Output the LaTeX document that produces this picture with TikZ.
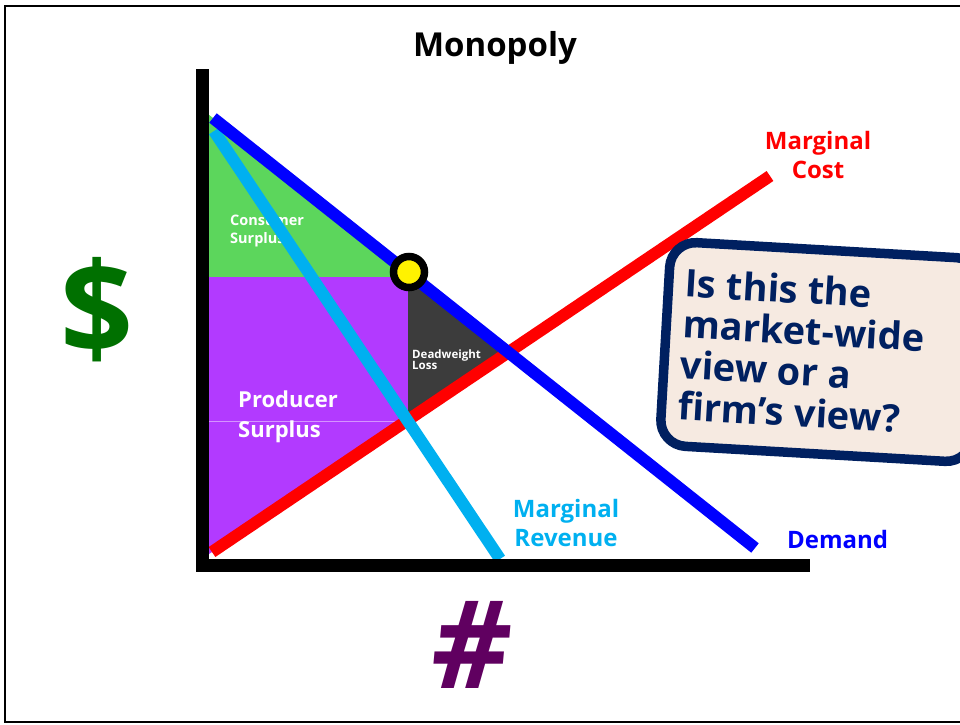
\documentclass[tikz,border=0pt]{standalone}
\usepackage{fontspec}
\setmainfont{Open Sans}
\usetikzlibrary{positioning}
\definecolor{csgreen}{RGB}{92,214,92}
\definecolor{pspurple}{RGB}{178,58,255}
\definecolor{dwlgray}{RGB}{60,60,60}
\definecolor{mrblue}{RGB}{0,176,240}
\definecolor{dollargreen}{RGB}{0,112,0}
\definecolor{hashpurple}{RGB}{96,0,96}
\definecolor{qnavy}{RGB}{0,32,96}
\definecolor{qfill}{RGB}{246,234,225}
\tikzset{
  curve/.style={line width=12pt},
  axisline/.style={line width=13pt, line join=miter},
  curvelabel/.style={font=\bfseries\fontsize{24}{29}\selectfont, align=center, inner sep=0pt},
  arealabel/.style={text=white, font=\bfseries, align=left, inner sep=0pt, anchor=west},
  qbox/.style={draw=qnavy, fill=qfill, line width=9.5pt, rounded corners=26pt,
    minimum width=312pt, minimum height=204pt},
  qtext/.style={text=qnavy, align=left, inner sep=0pt,
    font=\bfseries\fontsize{38}{41}\selectfont}
}

\begin{document}
\begin{tikzpicture}[x=1pt,y=-1pt]
  \useasboundingbox (0,0) rectangle (960,724);
  \clip (0,0) rectangle (960,724);
  \draw[line width=2pt] (5,6) rectangle (990,722);

  \node[font=\bfseries\fontsize{33}{40}\selectfont] (title) at (495,48) {Monopoly};
  \node[text=dollargreen, font=\bfseries\fontsize{128}{128}\selectfont] (dollar) at (97,310) {\$};
  \node[text=hashpurple, font=\bfseries\itshape\fontsize{122}{122}\selectfont] (hash) at (471,645) {\#};

  \coordinate (D1) at (213,118);
  \coordinate (D2) at (755,548);
  \coordinate (R1) at (214,131);
  \coordinate (R2) at (500,559);
  \coordinate (M1) at (212,552);
  \coordinate (M2) at (770,176);
  \coordinate (Y1) at (209,0);
  \coordinate (Y2) at (209,600);
  \coordinate (Q1) at (408,0);
  \coordinate (Q2) at (408,600);
  \coordinate (P1) at (209,277);
  \coordinate (P2) at (600,277);
  \coordinate (eq) at (intersection of D1--D2 and M1--M2);

  \fill[csgreen] (intersection of D1--D2 and Y1--Y2) -- (intersection of D1--D2 and P1--P2) -- (P1) -- cycle;
  \fill[pspurple] (P1) -- (intersection of P1--P2 and Q1--Q2) -- (intersection of M1--M2 and Q1--Q2)
    -- (intersection of M1--M2 and Y1--Y2) -- cycle;
  \fill[dwlgray] (intersection of D1--D2 and Q1--Q2) -- (eq) -- (intersection of M1--M2 and Q1--Q2) -- cycle;
  \draw[pspurple!55!white, line width=0.8pt] (209,421.5) -- (405,421.5);

  \node[arealabel, font=\bfseries\fontsize{14.5}{18}\selectfont] (cs) at (230,231) {Consumer\\Surplus};
  \node[arealabel, font=\bfseries\fontsize{22}{30}\selectfont] (ps) at (238,417) {Producer\\Surplus};
  \node[arealabel, font=\bfseries\fontsize{11.5}{11}\selectfont] (dwl) at (412,360) {Deadweight\\Loss};

  \draw[curve, red] (M1) -- (M2);
  \draw[curve, mrblue] (R1) -- (R2);
  \draw[curve, blue] (D1) -- (D2);

  \draw[axisline] (202.5,69) -- (202.5,565.5) -- (810,565.5);

  \draw[fill=yellow, line width=7.5pt] (409,272) circle (15.5);

  \node[curvelabel, text=red] (mc) at (818,155) {Marginal\\Cost};
  \node[curvelabel, text=mrblue] (mr) at (566,523) {Marginal\\Revenue};
  \node[curvelabel, text=blue, anchor=west] (dem) at (787,539) {Demand};

  \begin{scope}[shift={(821,352)}, rotate=-3.3, transform shape]
    \node[qbox] (question) at (0,0) {};
    \node[qtext, right=21pt of question.west] (qtxt) {Is this the\\market-wide\\view or a\\firm’s view?};
  \end{scope}
\end{tikzpicture}
\end{document}
